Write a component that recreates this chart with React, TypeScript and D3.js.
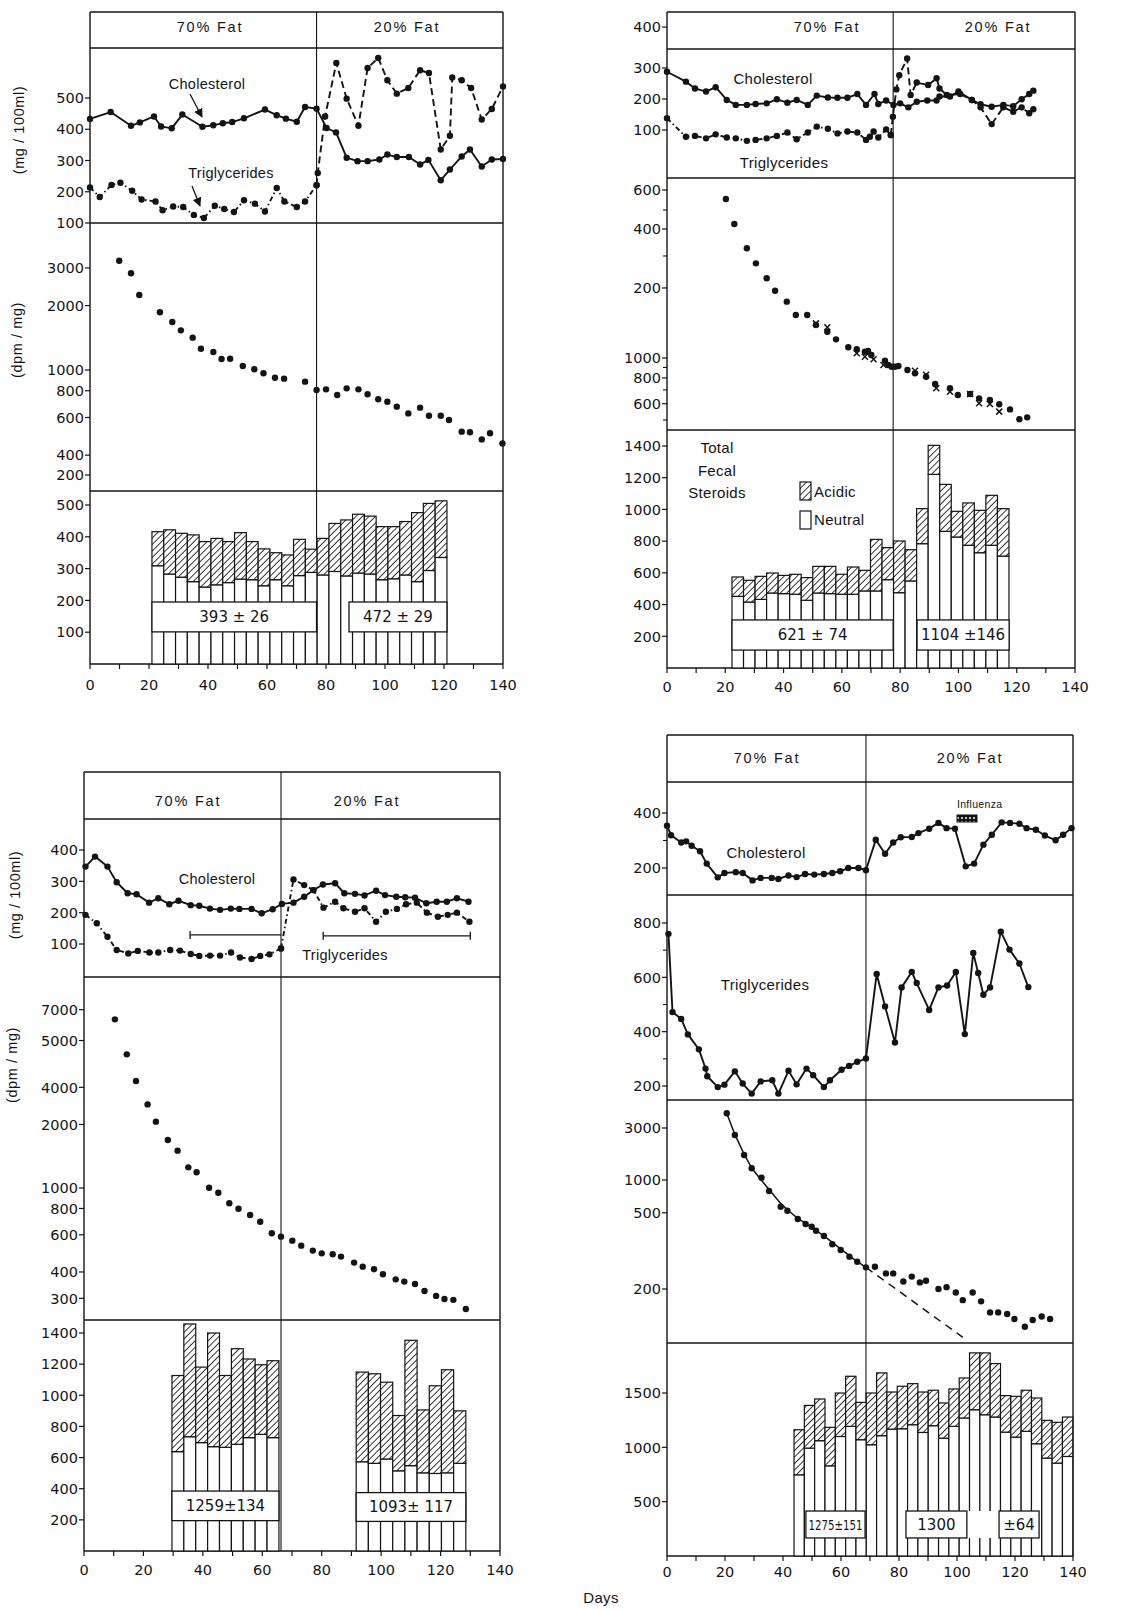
import React from "react";
import * as d3 from "d3";

type P = [number, number];
type T = [number, string];

// ---------------- Panel A (top-left) ----------------
const aChol: P[] = [[0,433],[7,455],[13.9,411],[16.9,422],[21.7,441],[24.1,409],[27.7,403],[31.3,447],[38.1,408],[41.8,413],[45,419],[48.2,423],[52.2,435],[59.3,463],[63.3,445],[66.4,434],[70.1,424],[72.9,471],[76.8,466],[80.2,404],[83.4,390],[87,309],[90.7,298],[94.1,298],[98.1,303],[100.8,319],[104,311],[108.1,311],[111.9,287],[114.7,302],[118.9,237],[122,271],[126,313],[128.8,335],[132.8,281],[136.2,303],[140,305]];
const aTrig: P[] = [[0,214],[3.3,183],[7.3,222],[10.3,229],[14.3,203],[17.5,175],[22.2,169],[24.6,141],[28.2,153],[31.6,151],[35.2,126],[38.6,116],[42.3,155],[45.5,145],[48.8,135],[52.2,173],[55.9,162],[59.3,137],[63.3,212],[65.9,169],[70.1,151],[72.9,169],[76.8,221],[77.2,260],[79.7,441],[83.5,612],[87,498],[91,411],[94.1,596],[97.7,628],[100.8,557],[104,514],[107.9,532],[111.9,589],[114.9,580],[118.9,335],[122,379],[122.8,566],[126,557],[129.2,532],[132.8,431],[136.2,465],[140,537]];
const aDpm: P[] = [[9.9,3240],[13.9,2830],[16.7,2240],[23.7,1860],[27.9,1676],[30.8,1532],[34.8,1416],[37.6,1257],[41.8,1214],[44.6,1126],[47.5,1129],[51.8,1044],[55.7,1008],[58.8,965],[62.7,920],[65.8,911],[72.9,882],[76.8,806],[80,812],[83.8,764],[87,821],[91,812],[94.1,770],[97.7,730],[100.8,711],[104,674],[107.9,627],[111.9,667],[114.9,611],[118.9,611],[121.7,584],[126,515],[128.8,512],[132.8,474],[135.6,506],[139.8,454]];
const aBarTotal = [416,422,411,406,385,395,385,413,385,362,350,343,392,361,395,442,453,471,465,432,432,448,476,505,513];
const aBarNeutral = [309,283,273,259,242,249,256,267,265,246,265,246,278,288,280,291,277,286,283,265,268,280,259,294,335];
const aSummary = ["393 ± 26", "472 ± 29"];
const aLipTicks: T[] = [[100,"100"],[200,"200"],[300,"300"],[400,"400"],[500,"500"]];
const aDpmTicks: T[] = [[3000,"3000"],[2000,"2000"],[1000,"1000"],[800,"800"],[600,"600"],[400,"400"],[323,"200"]];
const aBarTicks: T[] = [[100,"100"],[200,"200"],[300,"300"],[400,"400"],[500,"500"]];

// ---------------- Panel B (top-right) ----------------
const bChol: P[] = [[0,288],[6.5,256],[9.6,234],[13.4,224],[16.7,238],[20.5,197],[23.6,181],[27.4,181],[30.4,184],[34.2,186],[37.7,199],[41.3,188],[44.5,197],[48.3,181],[51.4,211],[55.2,205],[58.5,204],[61.9,204],[65.3,216],[68.3,181],[71.2,216],[72.5,184],[75.2,195],[77.7,181],[80,186],[82.8,173],[85.7,191],[89.3,195],[92.5,195],[93.5,208],[97.1,208],[100,224],[104.6,197],[107.6,183],[111.4,175],[115.4,181],[118.8,177],[121.7,199],[124.3,216],[125.7,227]];
const bTrig: P[] = [[0,138],[6.5,78],[9.6,81],[13.4,73],[16.7,86],[20.5,76],[23.6,73],[27.4,65],[30.4,68],[34.2,73],[37.7,81],[41.3,92],[44.5,70],[48.3,92],[51.4,111],[55.2,104],[58.5,89],[61.9,95],[65.3,92],[68.3,68],[69.6,78],[70.9,95],[72.5,76],[75.2,102],[76.8,84],[77.5,143],[78.7,231],[79.7,277],[82.4,331],[83.6,213],[85.7,253],[89.6,245],[92.5,267],[93.5,234],[96,213],[100.6,216],[104.6,197],[107.6,173],[111.4,119],[115.4,173],[118.8,159],[121.7,173],[124.3,154],[125.7,167]];
const bDpm: P[] = [[20.2,5910],[23.1,4470],[27.4,3410],[30.5,2880],[34.2,2440],[37.1,2120],[41.1,1877],[44.2,1617],[48.1,1617],[51.1,1446],[55,1342],[58,1232],[62.2,1127],[65.1,1102],[67.9,1073],[69,1081],[70.1,1034],[74.8,970],[75.9,925],[77.1,907],[78.2,907],[79.4,915],[82.5,874],[85.1,843],[88.9,811],[92,748],[97.1,713],[99.8,661],[104,669],[107.1,637],[110.8,625],[114,596],[117.7,563],[120.9,504],[123.6,515]];
const bDpmX: P[] = [[51.1,1473],[55,1409],[65.1,1054],[67.9,1015],[70.9,986],[74.3,925],[85.1,868],[88.9,830],[92.4,713],[97.1,686],[104,669],[107.1,603],[110.8,598],[114,549]];
const bBarTotal = [574,553,578,599,584,591,570,641,641,591,637,616,811,759,801,746,1005,1404,1158,988,1041,994,1089,1005];
const bBarNeutral = [452,416,433,473,469,465,427,473,469,465,465,486,486,557,475,549,784,1221,862,826,774,727,774,706];
const bSummary = ["621 ± 74", "1104 ±146"];
const bLipTicks: T[] = [[100,"100"],[200,"200"],[300,"300"],[432,"400"]];
const bDpmTicks: T[] = [[6540,"600"],[4230,"400"],[2188,"200"],[1000,"1000"],[800,"800"],[600,"600"]];
const bDpmMinor = [5230,3128,900,700,500];
const bBarTicks: T[] = [[200,"200"],[400,"400"],[600,"600"],[800,"800"],[1000,"1000"],[1200,"1200"],[1400,"1400"]];

// ---------------- Panel C (bottom-left) ----------------
const cChol: P[] = [[0.5,347],[3.7,379],[7.9,347],[11,297],[14.7,262],[17.7,259],[21.9,232],[25,246],[28.7,227],[31.8,238],[35.9,224],[38.8,222],[42.4,213],[45.8,209],[49.4,213],[52.3,212],[56.4,212],[59.8,198],[63.5,211],[66.6,228],[70.5,232],[74.1,251],[77.2,272],[80.4,290],[84.5,294],[87.6,262],[91.2,260],[94.4,255],[98.3,270],[101.3,256],[105.1,251],[108.1,249],[111.4,248],[115.2,230],[118.7,235],[122.1,235],[125.5,246],[129.4,235]];
const cTrig: P[] = [[0.5,193],[4.3,166],[7.9,123],[11,81],[14.9,70],[18.1,78],[22,73],[25,73],[29,81],[32.3,79],[35.9,68],[38.8,62],[42.4,63],[45.8,63],[49.5,73],[52.5,57],[56.4,52],[59.3,62],[62.4,67],[66.3,86],[70.5,306],[74.1,288],[77.2,272],[80.6,216],[84.5,235],[87.3,214],[91.2,203],[94.4,214],[98.3,171],[101.6,203],[105.3,212],[108.4,227],[112,232],[115.4,200],[119.1,187],[122.4,193],[125.5,200],[129.7,171]];
const cDpm: P[] = [[10.4,6300],[14.4,4300],[17.5,3215],[21.4,2490],[24.2,2063],[28.2,1688],[31.5,1503],[35.1,1253],[37.9,1187],[42.1,1003],[45.2,950],[48.9,846],[52,798],[55.9,745],[59.3,692],[63.2,610],[66.3,588],[70.1,563],[73.1,533],[77,505],[80,490],[83.7,485],[86.5,473],[90.9,443],[93.8,424],[97.6,412],[100.6,390],[104.9,369],[107.8,360],[111.4,351],[114.6,325],[118.5,308],[121.3,298],[124.3,295],[128.5,267]];
const cBar1Total = [1127,1458,1181,1400,1127,1299,1233,1196,1222];
const cBar1Neutral = [638,734,696,670,666,685,728,749,728];
const cBar2Total = [1149,1138,1084,870,1353,906,1061,1164,900];
const cBar2Neutral = [573,563,591,515,548,502,498,502,563];
const cSummary = ["1259±134", "1093± 117"];
const cLipTicks: T[] = [[100,"100"],[200,"200"],[300,"300"],[400,"400"]];
const cDpmTicks: T[] = [[7000,"7000"],[5000,"5000"],[3000,"4000"],[2000,"2000"],[1000,"1000"],[800,"800"],[600,"600"],[400,"400"],[300,"300"]];
const cBarTicks: T[] = [[200,"200"],[400,"400"],[600,"600"],[800,"800"],[1000,"1000"],[1200,"1200"],[1400,"1400"]];

// ---------------- Panel D (bottom-right) ----------------
const dChol: P[] = [[0,354],[1.4,319],[4.9,293],[6.6,297],[8.5,281],[11.4,261],[13.7,216],[17.5,166],[19.8,182],[23.7,185],[26.1,182],[29.5,155],[32.3,164],[36.1,164],[38.4,160],[41.9,173],[44.7,167],[47.6,178],[50.8,176],[54.1,178],[57,182],[59.7,188],[62.5,200],[66,200],[68.6,192],[72,303],[75.2,252],[78,293],[80.6,312],[84.4,313],[86.7,327],[90.4,343],[93.6,364],[96.4,345],[99.3,343],[103,206],[105.9,216],[109.1,285],[112,321],[115.4,366],[118.3,364],[121.5,361],[124,345],[127.2,339],[130.3,318],[134,301],[136.6,321],[139.5,345]];
const dTrig: P[] = [[0.5,760],[1.9,472],[4.9,447],[7.2,390],[11,335],[13.3,264],[13.9,236],[17.5,196],[19.8,205],[23.4,254],[26.1,209],[29.2,172],[32.3,217],[36.3,221],[38.4,172],[41.9,256],[44.7,206],[48.1,264],[50.4,240],[54.1,196],[56.2,221],[60.2,260],[62.8,274],[65.6,289],[68.6,301],[72.3,612],[75.2,493],[78.6,360],[80.9,563],[84.4,620],[86.1,579],[90.4,480],[93.6,563],[96.6,570],[99.6,620],[102.7,391],[105.6,690],[107.3,616],[109.1,536],[111.4,563],[115.1,768],[118.1,702],[121.5,651],[124.6,564]];
const dDpm: P[] = [[20.6,4090],[23.4,2587],[26.6,1696],[29.2,1280],[32.6,1049],[35.2,793],[39.2,569],[41.5,523],[45.1,439],[47.8,395],[49.9,373],[51.4,342],[54.1,306],[57,257],[59.9,228],[62.9,198],[65.6,178],[68.6,158],[71.7,160],[75.5,139],[78,139],[81.5,117],[84.4,130],[87.2,115],[89.3,119],[93.6,100],[96.4,104],[99.6,93],[102,79],[105.4,93],[108.3,77],[111.4,61],[114.2,61],[117.3,59],[119.8,53],[123.4,45],[126.1,52],[129.2,56],[132.1,53]];
const dFit: P[] = [[20.6,4090],[23.4,2620],[26.6,1720],[29.2,1290],[32.6,990],[35.2,820],[39.2,610],[42,520],[45.1,445],[50,365],[55,295],[60,232],[65,183],[68.6,158]];
const dFitExt: P[] = [[68.6,158],[102,36]];
const dBarTotal = [1162,1386,1445,1184,1500,1654,1414,1500,1685,1509,1562,1586,1509,1525,1408,1537,1638,1869,1869,1771,1476,1469,1525,1454,1248,1230,1279];
const dBarNeutral = [747,993,1061,830,1100,1193,1070,1024,1107,1168,1171,1208,1137,1199,1085,1193,1270,1346,1300,1279,1140,1094,1147,1033,901,855,916];
const dSummary = ["1275±151", "1300", "±64"];
const dCholTicks: T[] = [[200,"200"],[400,"400"]];
const dTrigTicks: T[] = [[200,"200"],[400,"400"],[600,"600"],[800,"800"]];
const dDpmTicks: T[] = [[3000,"3000"],[1000,"1000"],[500,"500"],[100,"200"]];
const dBarTicks: T[] = [[500,"500"],[1000,"1000"],[1500,"1500"]];

const xTickLabels = [0,20,40,60,80,100,120,140];
const xTickMarks = d3.range(0,141,10);

const FW = "'Liberation Sans', Arial, sans-serif";
const FN = "'DejaVu Sans', sans-serif";
const INK = "#141414";

type Sc = (v:number)=>number;

function Frame({x0,x1,hs,div,top,bottom}:{x0:number;x1:number;hs:number[];div:number;top:number;bottom:number}) {
  return <g stroke={INK} strokeWidth={1.4} fill="none">
    <line x1={x0} y1={top} x2={x0} y2={bottom}/>
    <line x1={x1} y1={top} x2={x1} y2={bottom}/>
    {hs.map((h,i)=><line key={i} x1={x0} y1={h} x2={x1} y2={h}/>)}
    <line x1={div} y1={top} x2={div} y2={bottom} strokeWidth={1.1}/>
  </g>;
}

function XAxis({x,y,labelY}:{x:Sc;y:number;labelY:number}) {
  return <g>
    {xTickMarks.map(d=><line key={d} x1={x(d)} x2={x(d)} y1={y} y2={y+5} stroke={INK} strokeWidth={1.2}/>)}
    {xTickLabels.map(d=><text key={d} x={x(d)} y={labelY} textAnchor="middle" fontFamily={FN} fontSize={14.5} fill={INK}>{d}</text>)}
  </g>;
}

function YAxis({x0,y,ticks,minor=[]}:{x0:number;y:Sc;ticks:T[];minor?:number[]}) {
  return <g>
    {ticks.map(([v,l],i)=><g key={i}>
      <line x1={x0-5} x2={x0} y1={y(v)} y2={y(v)} stroke={INK} strokeWidth={1.2}/>
      <text x={x0-6} y={y(v)} dy="0.36em" textAnchor="end" fontFamily={FN} fontSize={14.5} fill={INK}>{l}</text>
    </g>)}
    {minor.map((v,i)=><line key={"m"+i} x1={x0-4} x2={x0} y1={y(v)} y2={y(v)} stroke={INK} strokeWidth={1.1}/>)}
  </g>;
}

function Series({data,x,y,dash,dots=true,sw=1.9,r=3.2}:{data:P[];x:Sc;y:Sc;dash?:string;dots?:boolean;sw?:number;r?:number}) {
  const ln = d3.line<P>().x(d=>x(d[0])).y(d=>y(d[1]));
  return <g>
    <path d={ln(data)||""} fill="none" stroke={INK} strokeWidth={sw} strokeDasharray={dash} strokeLinejoin="round"/>
    {dots && data.map((d,i)=><circle key={i} cx={x(d[0])} cy={y(d[1])} r={r} fill={INK}/>)}
  </g>;
}

function Dots({data,x,y,r=3.2}:{data:P[];x:Sc;y:Sc;r?:number}) {
  return <g>{data.map((d,i)=><circle key={i} cx={x(d[0])} cy={y(d[1])} r={r} fill={INK}/>)}</g>;
}

function Crosses({data,x,y,s=3}:{data:P[];x:Sc;y:Sc;s?:number}) {
  return <g stroke={INK} strokeWidth={1.5}>{data.map((d,i)=>{const cx=x(d[0]),cy=y(d[1]);return <g key={i}>
    <line x1={cx-s} y1={cy-s} x2={cx+s} y2={cy+s}/><line x1={cx-s} y1={cy+s} x2={cx+s} y2={cy-s}/></g>;})}</g>;
}

function splitAt(data:P[], day:number):[P[],P[]] {
  const a = data.filter(d=>d[0]<=day);
  const b = [a[a.length-1], ...data.filter(d=>d[0]>day)];
  return [a,b];
}

function Bars({x,y,start,width,total,neutral}:{x:Sc;y:Sc;start:number;width:number;total:number[];neutral:number[]}) {
  return <g stroke={INK} strokeWidth={1.2}>
    {total.map((t,i)=>{
      const a = x(start+i*width), b = x(start+(i+1)*width);
      return <g key={i}>
        <rect x={a} y={y(neutral[i])} width={b-a} height={y(0)-y(neutral[i])} fill="#fff"/>
        <rect x={a} y={y(t)} width={b-a} height={y(neutral[i])-y(t)} fill="url(#hatch)"/>
      </g>;
    })}
  </g>;
}

function SumBox({x,y,d0,d1,v0,v1,text,stroke=true,fs=15,tl}:{x:Sc;y:Sc;d0:number;d1:number;v0:number;v1:number;text:string;stroke?:boolean;fs?:number;tl?:number}) {
  const x0=x(d0), x1=x(d1), yt=y(v1), yb=y(v0);
  return <g>
    <rect x={x0} y={yt} width={x1-x0} height={yb-yt} fill="#fff" stroke={stroke?INK:"none"} strokeWidth={1.3}/>
    {text && <text x={(x0+x1)/2} y={(yt+yb)/2} dy="0.36em" textAnchor="middle" fontFamily={FN} fontSize={fs} fill={INK}
      textLength={tl} lengthAdjust={tl?"spacingAndGlyphs":undefined}>{text}</text>}
  </g>;
}

function Label({x,y,text,size=14.5,anchor="middle",ls=0.3}:{x:number;y:number;text:string;size?:number;anchor?:string;ls?:number}) {
  return <text x={x} y={y} textAnchor={anchor as any} fontFamily={FW} fontSize={size} fill={INK} letterSpacing={ls}>{text}</text>;
}

function VLabel({x,y,text}:{x:number;y:number;text:string}) {
  return <text transform={`translate(${x},${y}) rotate(-90)`} textAnchor="middle" fontFamily={FW} fontSize={14.5} fill={INK} letterSpacing={0.6}>{text}</text>;
}

export default function App() {
  const xA = d3.scaleLinear().domain([0,140]).range([90,503]);
  const yALip = d3.scaleLinear().domain([100,500]).range([223,98]);
  const yADpm = d3.scaleLog().domain([1000,10000]).range([370,370-214]);
  const yABar = d3.scaleLinear().domain([0,500]).range([664,505]);
  const aDiv = 76.8;
  const [aT1,aT2] = splitAt(aTrig, aDiv);

  const xB = d3.scaleLinear().domain([0,140]).range([667,1075]);
  const yBLip = d3.scaleLinear().domain([100,300]).range([130,68]);
  const yBDpm = d3.scaleLog().domain([1000,10000]).range([358,358-206]);
  const yBBar = d3.scaleLinear().domain([0,1400]).range([668,446]);
  const bDiv = 77.6;
  const [bT1,bT2] = splitAt(bTrig, 76.8);

  const xC = d3.scaleLinear().domain([0,140]).range([84,500]);
  const yCLip = d3.scaleLinear().domain([100,400]).range([944,850]);
  const yCDpm = d3.scaleLog().domain([1000,10000]).range([1188,1188-211]);
  const yCBar = d3.scaleLinear().domain([0,1400]).range([1551,1333]);
  const cDiv = 66.3;
  const [cT1,cT2] = splitAt(cTrig, cDiv);

  const xD = d3.scaleLinear().domain([0,140]).range([667,1073]);
  const yDChol = d3.scaleLinear().domain([200,400]).range([868,813]);
  const yDTrig = d3.scaleLinear().domain([200,800]).range([1086,923]);
  const yDDpm = d3.scaleLog().domain([1000,10000]).range([1180,1180-109]);
  const yDBar = d3.scaleLinear().domain([0,1500]).range([1556,1393]);
  const dDiv = 68.6;

  const dashDot = "5,3,1.5,3";
  const dashed = "7,4";

  return (
    <svg width={1138} height={1609} style={{position:"absolute",left:0,top:0}} fontFamily={FW}>
      <defs>
        <pattern id="hatch" patternUnits="userSpaceOnUse" width={4.6} height={4.6} patternTransform="rotate(45)">
          <rect width={4.6} height={4.6} fill="#fff"/>
          <line x1={0} y1={0} x2={0} y2={4.6} stroke={INK} strokeWidth={1.7}/>
        </pattern>
        <pattern id="spots" patternUnits="userSpaceOnUse" width={4} height={4}>
          <rect width={4} height={4} fill={INK}/>
          <circle cx={2} cy={2} r={1} fill="#fff"/>
        </pattern>
        <marker id="arr" viewBox="0 0 10 10" refX={9} refY={5} markerWidth={7} markerHeight={7} orient="auto">
          <path d="M0,0 L10,5 L0,10 Z" fill={INK}/>
        </marker>
      </defs>
      <rect width={1138} height={1609} fill="#fff"/>

      {/* ================= Panel A ================= */}
      <Frame x0={90} x1={503} hs={[12,48,223,491,664]} div={xA(aDiv)} top={12} bottom={664}/>
      <Label x={210} y={32} text="70% Fat" size={14.5} ls={1.8}/>
      <Label x={407} y={32} text="20% Fat" size={14.5} ls={1.8}/>
      <YAxis x0={90} y={yALip} ticks={aLipTicks}/>
      <YAxis x0={90} y={yADpm} ticks={aDpmTicks}/>
      <YAxis x0={90} y={yABar} ticks={aBarTicks}/>
      <Series data={aChol} x={xA} y={yALip}/>
      <Series data={aT1} x={xA} y={yALip} dash={dashDot}/>
      <Series data={aT2} x={xA} y={yALip} dash={dashed}/>
      <Label x={207} y={89} text="Cholesterol"/>
      <Label x={231} y={178} text="Triglycerides"/>
      <line x1={190} y1={94} x2={202} y2={117} stroke={INK} strokeWidth={1.3} markerEnd="url(#arr)"/>
      <line x1={192} y1={186} x2={200} y2={206} stroke={INK} strokeWidth={1.3} markerEnd="url(#arr)"/>
      <Dots data={aDpm} x={xA} y={yADpm}/>
      <Bars x={xA} y={yABar} start={21} width={4} total={aBarTotal} neutral={aBarNeutral}/>
      <SumBox x={xA} y={yABar} d0={21} d1={76.8} v0={101} v1={195} text={aSummary[0]}/>
      <SumBox x={xA} y={yABar} d0={87.8} d1={121} v0={101} v1={195} text={aSummary[1]}/>
      <XAxis x={xA} y={664} labelY={690}/>
      <VLabel x={24} y={130} text="(mg / 100ml)"/>
      <VLabel x={22} y={340} text="(dpm / mg)"/>

      {/* ================= Panel B ================= */}
      <Frame x0={667} x1={1075} hs={[12,49,178,430,668]} div={xB(bDiv)} top={12} bottom={668}/>
      <Label x={827} y={32} text="70% Fat" size={14.5} ls={1.8}/>
      <Label x={998} y={32} text="20% Fat" size={14.5} ls={1.8}/>
      <YAxis x0={667} y={yBLip} ticks={bLipTicks}/>
      <YAxis x0={667} y={yBDpm} ticks={bDpmTicks} minor={bDpmMinor}/>
      <YAxis x0={667} y={yBBar} ticks={bBarTicks}/>
      <Series data={bChol} x={xB} y={yBLip}/>
      <Series data={bT1} x={xB} y={yBLip} dash={dashDot}/>
      <Series data={bT2} x={xB} y={yBLip} dash={dashed}/>
      <Label x={773} y={84} text="Cholesterol" size={15}/>
      <Label x={784} y={168} text="Triglycerides" size={15}/>
      <Dots data={bDpm} x={xB} y={yBDpm}/>
      <Crosses data={bDpmX} x={xB} y={yBDpm}/>
      <Bars x={xB} y={yBBar} start={22.3} width={3.96} total={bBarTotal} neutral={bBarNeutral}/>
      <SumBox x={xB} y={yBBar} d0={22.3} d1={77.6} v0={113} v1={303} text={bSummary[0]}/>
      <SumBox x={xB} y={yBBar} d0={85.8} d1={117.4} v0={113} v1={303} text={bSummary[1]}/>
      <XAxis x={xB} y={668} labelY={692}/>
      <Label x={717} y={453} text="Total" size={15}/>
      <Label x={717} y={476} text="Fecal" size={15}/>
      <Label x={717} y={498} text="Steroids" size={15}/>
      <rect x={800} y={482} width={11} height={18} fill="url(#hatch)" stroke={INK} strokeWidth={1.2}/>
      <Label x={814} y={497} text="Acidic" size={15} anchor="start"/>
      <rect x={800} y={511} width={11} height={18} fill="#fff" stroke={INK} strokeWidth={1.2}/>
      <Label x={814} y={525} text="Neutral" size={15} anchor="start"/>

      {/* ================= Panel C ================= */}
      <Frame x0={84} x1={500} hs={[772,819,977,1320,1551]} div={xC(cDiv)} top={772} bottom={1551}/>
      <Label x={188} y={806} text="70% Fat" size={14.5} ls={1.8}/>
      <Label x={367} y={806} text="20% Fat" size={14.5} ls={1.8}/>
      <YAxis x0={84} y={yCLip} ticks={cLipTicks}/>
      <YAxis x0={84} y={yCDpm} ticks={cDpmTicks}/>
      <YAxis x0={84} y={yCBar} ticks={cBarTicks}/>
      <Series data={cChol} x={xC} y={yCLip}/>
      <Series data={cT1} x={xC} y={yCLip} dash={dashDot}/>
      <Series data={cT2} x={xC} y={yCLip} dash={dashDot}/>
      <Label x={217} y={884} text="Cholesterol"/>
      <Label x={345} y={960} text="Triglycerides"/>
      <g stroke={INK} strokeWidth={1.3}>
        <line x1={xC(35.7)} x2={xC(66.3)} y1={yCLip(129)} y2={yCLip(129)}/>
        <line x1={xC(35.7)} x2={xC(35.7)} y1={yCLip(129)-4} y2={yCLip(129)+4}/>
        <line x1={xC(80.5)} x2={xC(130)} y1={yCLip(126)} y2={yCLip(126)}/>
        <line x1={xC(80.5)} x2={xC(80.5)} y1={yCLip(126)-4} y2={yCLip(126)+4}/>
        <line x1={xC(130)} x2={xC(130)} y1={yCLip(126)-4} y2={yCLip(126)+4}/>
      </g>
      <Dots data={cDpm} x={xC} y={yCDpm}/>
      <Bars x={xC} y={yCBar} start={29.6} width={4} total={cBar1Total} neutral={cBar1Neutral}/>
      <Bars x={xC} y={yCBar} start={91.6} width={4.1} total={cBar2Total} neutral={cBar2Neutral}/>
      <SumBox x={xC} y={yCBar} d0={29.6} d1={65.6} v0={195} v1={385} text={cSummary[0]}/>
      <SumBox x={xC} y={yCBar} d0={91.6} d1={128.5} v0={190} v1={375} text={cSummary[1]}/>
      <XAxis x={xC} y={1551} labelY={1575}/>
      <VLabel x={20} y={895} text="(mg / 100ml)"/>
      <VLabel x={17} y={1065} text="(dpm / mg)"/>

      {/* ================= Panel D ================= */}
      <Frame x0={667} x1={1073} hs={[735,782,895,1100,1343,1556]} div={xD(dDiv)} top={735} bottom={1556}/>
      <Label x={767} y={763} text="70% Fat" size={14.5} ls={1.8}/>
      <Label x={970} y={763} text="20% Fat" size={14.5} ls={1.8}/>
      <YAxis x0={667} y={yDChol} ticks={dCholTicks} minor={[300]}/>
      <YAxis x0={667} y={yDTrig} ticks={dTrigTicks} minor={[300,500,700]}/>
      <YAxis x0={667} y={yDDpm} ticks={dDpmTicks}/>
      <YAxis x0={667} y={yDBar} ticks={dBarTicks}/>
      <Series data={dChol} x={xD} y={yDChol}/>
      <Series data={dTrig} x={xD} y={yDTrig}/>
      <Label x={766} y={858} text="Cholesterol" size={15}/>
      <Label x={765} y={990} text="Triglycerides" size={15}/>
      <Label x={957} y={808} text="Influenza" size={10.5} anchor="start"/>
      <rect x={957} y={815} width={20} height={7} fill="url(#spots)" stroke={INK} strokeWidth={1}/>
      <Series data={dFit} x={xD} y={yDDpm} dots={false} sw={1.5}/>
      <Series data={dFitExt} x={xD} y={yDDpm} dots={false} sw={1.5} dash="8,6"/>
      <Dots data={dDpm} x={xD} y={yDDpm}/>
      <Bars x={xD} y={yDBar} start={43.8} width={3.56} total={dBarTotal} neutral={dBarNeutral}/>
      <SumBox x={xD} y={yDBar} d0={82.4} d1={128.3} v0={166} v1={414} text="" stroke={false}/>
      <SumBox x={xD} y={yDBar} d0={47.9} d1={68.3} v0={166} v1={414} text={dSummary[0]} fs={14} tl={54}/>
      <SumBox x={xD} y={yDBar} d0={82.4} d1={103.4} v0={166} v1={414} text={dSummary[1]}/>
      <SumBox x={xD} y={yDBar} d0={114.5} d1={128.3} v0={166} v1={414} text={dSummary[2]}/>
      <XAxis x={xD} y={1556} labelY={1577}/>
      <Label x={601} y={1603} text="Days" size={15}/>
    </svg>
  );
}
